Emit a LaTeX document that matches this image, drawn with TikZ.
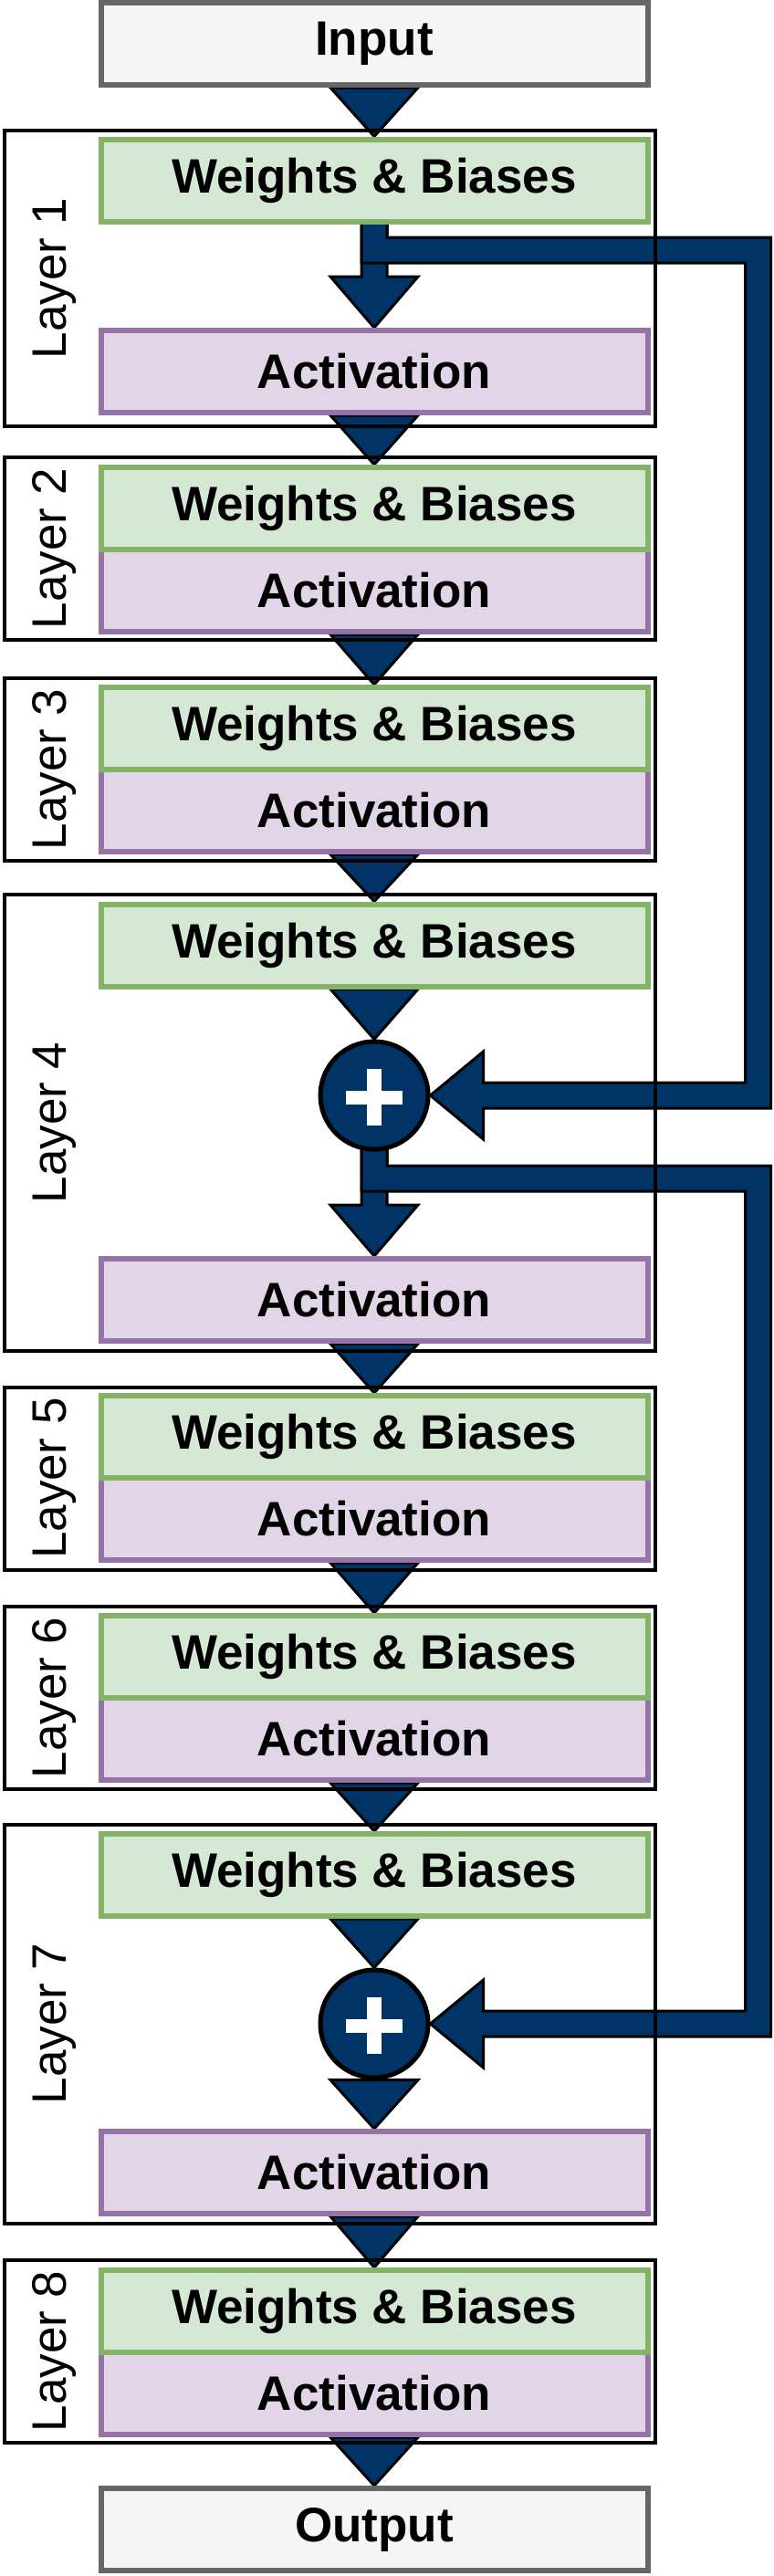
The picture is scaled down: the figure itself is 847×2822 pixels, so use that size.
\documentclass[tikz,border=0pt]{standalone}
\usepackage{fontspec}
\setmainfont{Liberation Sans}
\usetikzlibrary{calc, backgrounds}

\definecolor{wbfill}{HTML}{D5E8D4}
\definecolor{wbline}{HTML}{82B366}
\definecolor{actfill}{HTML}{E1D5E7}
\definecolor{actline}{HTML}{9673A6}
\definecolor{iofill}{HTML}{F5F5F5}
\definecolor{ioline}{HTML}{666666}
\definecolor{flowblue}{HTML}{003366}

\begin{document}
\begin{tikzpicture}[x=1pt, y=-1pt,
		box/.style={draw, line width=6pt, minimum width=599pt, minimum height=90pt, inner sep=0pt, font=\bfseries\fontsize{53}{60}\selectfont},
		wb/.style={box, fill=wbfill, draw=wbline},
		act/.style={box, fill=actfill, draw=actline},
		io/.style={box, fill=iofill, draw=ioline},
		layerbox/.style={draw, line width=4pt, minimum width=713pt, inner sep=0pt},
		layerlabel/.style={rotate=90, anchor=base, font=\fontsize{53}{60}\selectfont},
		addnode/.style={circle, draw, line width=5pt, fill=flowblue, minimum size=118pt, inner sep=0pt},
		flow/.style={fill=flowblue, draw=black, line width=3pt, line join=miter}
		]
		\useasboundingbox (0,0) rectangle (847,2822);
		
		% Input
		\node[io] (input) at (410,48) {Input};
		
		% Layer 1
		\node[layerbox, minimum height=324pt] (layer1) at (361.5,305) {};
		\node[layerlabel] (lab1) at (72,305) {Layer 1};
		\node[wb] (wb1) at (410,197.5) {Weights \& Biases};
		\node[act] (act1) at (410,407) {Activation};
		
		% Layer 2
		\node[layerbox, minimum height=200pt] (layer2) at (361.5,601) {};
		\node[layerlabel] (lab2) at (72,601) {Layer 2};
		\node[act] (act2) at (410,647) {Activation};
		\node[wb] (wb2) at (410,557) {Weights \& Biases};
		
		% Layer 3
		\node[layerbox, minimum height=200pt] (layer3) at (361.5,843) {};
		\node[layerlabel] (lab3) at (72,843) {Layer 3};
		\node[act] (act3) at (410,888) {Activation};
		\node[wb] (wb3) at (410,798) {Weights \& Biases};
		
		% Layer 4 (residual add)
		\node[layerbox, minimum height=500pt] (layer4) at (361.5,1230) {};
		\node[layerlabel] (lab4) at (72,1230) {Layer 4};
		\node[wb] (wb4) at (410,1035.5) {Weights \& Biases};
		\node[addnode] (add4) at (410,1200) {};
		\fill[white] ($(add4.center)+(-31,-5.5)$) rectangle +(62,15);
		\fill[white] ($(add4.center)+(-8,-29)$) rectangle +(16,62);
		\node[act] (act4) at (410,1424) {Activation};
		
		% Layer 5
		\node[layerbox, minimum height=200pt] (layer5) at (361.5,1619.5) {};
		\node[layerlabel] (lab5) at (72,1619.5) {Layer 5};
		\node[act] (act5) at (410,1664) {Activation};
		\node[wb] (wb5) at (410,1574) {Weights \& Biases};
		
		% Layer 6
		\node[layerbox, minimum height=200pt] (layer6) at (361.5,1860) {};
		\node[layerlabel] (lab6) at (72,1860) {Layer 6};
		\node[act] (act6) at (410,1905) {Activation};
		\node[wb] (wb6) at (410,1815) {Weights \& Biases};
		
		% Layer 7 (residual add)
		\node[layerbox, minimum height=437pt] (layer7) at (361.5,2217) {};
		\node[layerlabel] (lab7) at (72,2217) {Layer 7};
		\node[wb] (wb7) at (410,2054) {Weights \& Biases};
		\node[addnode] (add7) at (410,2217) {};
		\fill[white] ($(add7.center)+(-31,-5.5)$) rectangle +(62,15);
		\fill[white] ($(add7.center)+(-8,-29)$) rectangle +(16,62);
		\node[act] (act7) at (410,2380) {Activation};
		
		% Layer 8
		\node[layerbox, minimum height=200pt] (layer8) at (361.5,2576) {};
		\node[layerlabel] (lab8) at (72,2576) {Layer 8};
		\node[act] (act8) at (410,2622) {Activation};
		\node[wb] (wb8) at (410,2532) {Weights \& Biases};
		
		% Output
		\node[io] (output) at (410,2771) {Output};
		
		% skip rail
		\coordinate (rail) at (830.5,0);
		\coordinate (branch1) at (410,274);
		\coordinate (branch2) at (410,1291);
		
		\begin{scope}[on background layer]
			% Main flow
			\filldraw[flow] ($(input.south)+(-48,0)$) -- ($(input.south)+(48,0)$) -- (wb1.north) -- cycle;
			\filldraw[flow] ($(act1.south)+(-48,0)$) -- ($(act1.south)+(48,0)$) -- (wb2.north) -- cycle;
			\filldraw[flow] ($(act2.south)+(-48,0)$) -- ($(act2.south)+(48,0)$) -- (wb3.north) -- cycle;
			\filldraw[flow] ($(act3.south)+(-48,0)$) -- ($(act3.south)+(48,0)$) -- (wb4.north) -- cycle;
			\filldraw[flow] ($(wb4.south)+(-48,0)$) -- ($(wb4.south)+(48,0)$) -- (add4.north) -- cycle;
			\filldraw[flow] ($(act4.south)+(-48,0)$) -- ($(act4.south)+(48,0)$) -- (wb5.north) -- cycle;
			\filldraw[flow] ($(act5.south)+(-48,0)$) -- ($(act5.south)+(48,0)$) -- (wb6.north) -- cycle;
			\filldraw[flow] ($(act6.south)+(-48,0)$) -- ($(act6.south)+(48,0)$) -- (wb7.north) -- cycle;
			\filldraw[flow] ($(wb7.south)+(-48,0)$) -- ($(wb7.south)+(48,0)$) -- (add7.north) -- cycle;
			\filldraw[flow] ($(add7.south)+(-48,0)$) -- ($(add7.south)+(48,0)$) -- (act7.north) -- cycle;
			\filldraw[flow] ($(act7.south)+(-48,0)$) -- ($(act7.south)+(48,0)$) -- (wb8.north) -- cycle;
			\filldraw[flow] ($(act8.south)+(-48,0)$) -- ($(act8.south)+(48,0)$) -- (output.north) -- cycle;
			
			% Layer 1 stem and skip to layer 4
			\filldraw[flow] ($(wb1.south)+(-14,0)$) -- ($(act1.north)+(-14,-56)$) -- ($(act1.north)+(-48,-56)$) -- (act1.north) -- ($(act1.north)+(48,-56)$) -- ($(act1.north)+(14,-56)$) -- ($(wb1.south)+(14,0)$);
			\filldraw[flow] ($(wb1.south)+(-14,0)$) -- ($(branch1)+(-14,14)$) -- ($(branch1 -| rail)+(-14,14)$) -- ($(add4.east -| rail)+(-14,-14)$) -- ($(add4.east)+(58,-14)$) -- ($(add4.east)+(58,-48)$) -- (add4.east) -- ($(add4.east)+(58,48)$) -- ($(add4.east)+(58,14)$) -- ($(add4.east -| rail)+(14,14)$) -- ($(branch1 -| rail)+(14,-14)$) -- ($(branch1)+(14,-14)$) -- ($(wb1.south)+(14,0)$);
			
			% Layer 4 stem and skip to layer 7
			\filldraw[flow] ($(add4.south)+(-14,-6)$) -- ($(act4.north)+(-14,-56)$) -- ($(act4.north)+(-48,-56)$) -- (act4.north) -- ($(act4.north)+(48,-56)$) -- ($(act4.north)+(14,-56)$) -- ($(add4.south)+(14,-6)$);
			\filldraw[flow] ($(add4.south)+(-14,-6)$) -- ($(branch2)+(-14,14)$) -- ($(branch2 -| rail)+(-14,14)$) -- ($(add7.east -| rail)+(-14,-14)$) -- ($(add7.east)+(58,-14)$) -- ($(add7.east)+(58,-48)$) -- (add7.east) -- ($(add7.east)+(58,48)$) -- ($(add7.east)+(58,14)$) -- ($(add7.east -| rail)+(14,14)$) -- ($(branch2 -| rail)+(14,-14)$) -- ($(branch2)+(14,-14)$) -- ($(add4.south)+(14,-6)$);
		\end{scope}
	\end{tikzpicture}
\end{document}
